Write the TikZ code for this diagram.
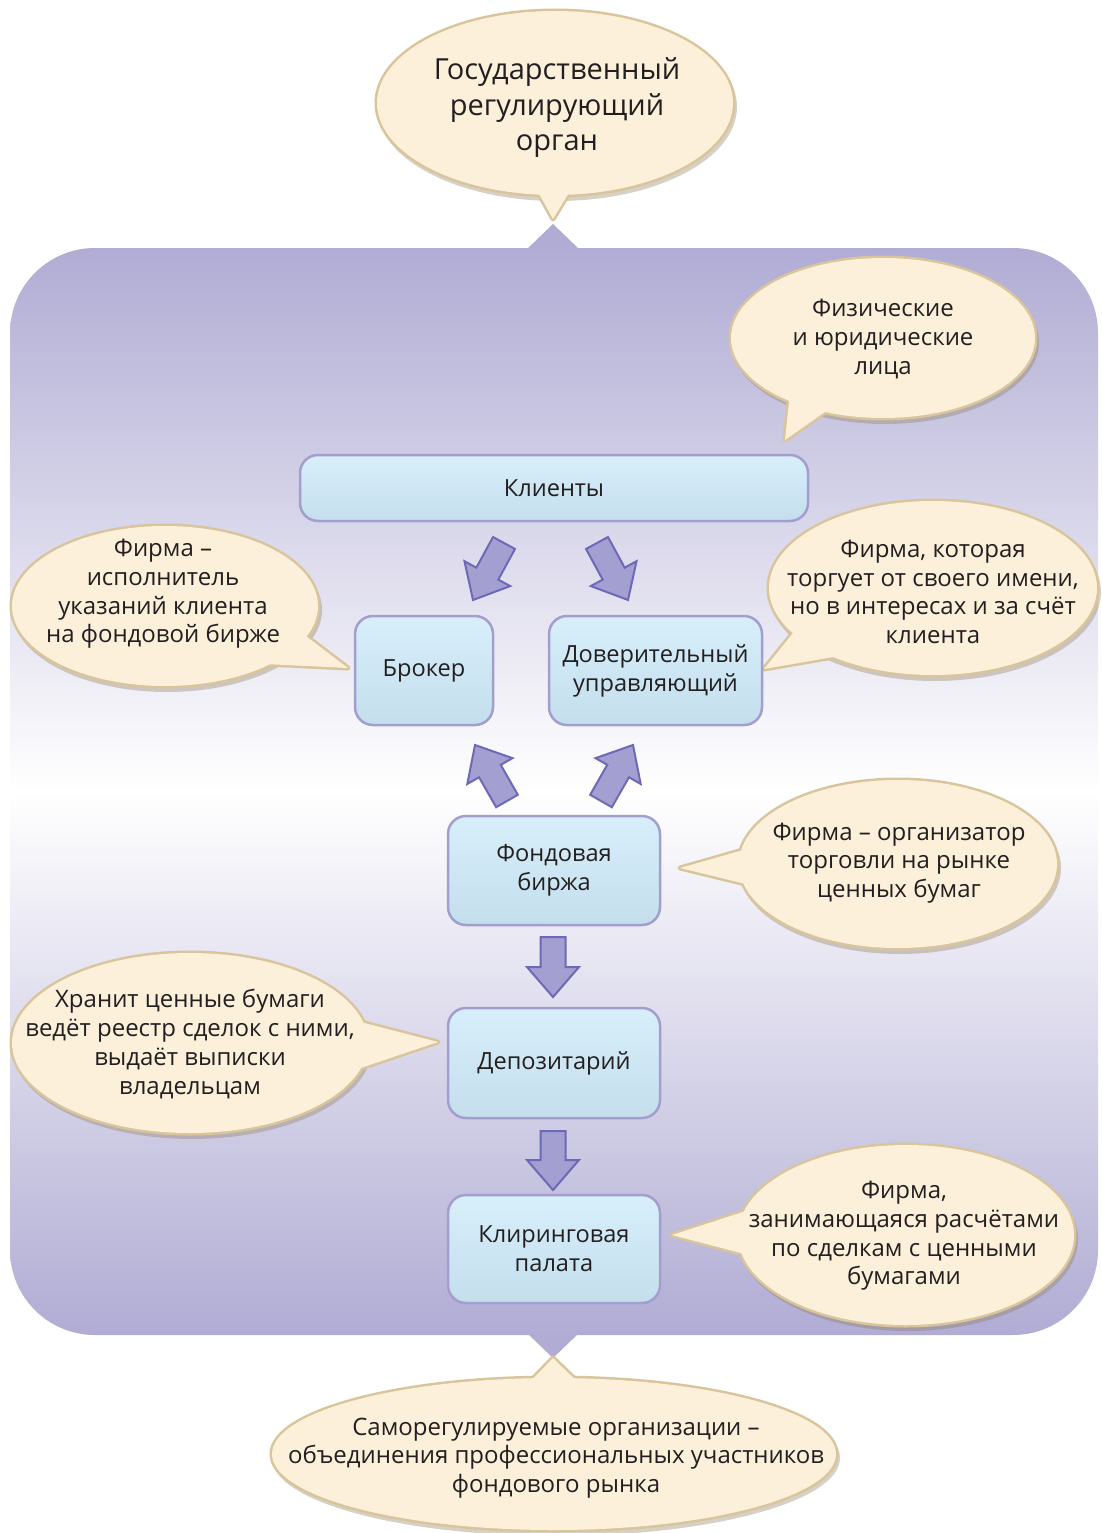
\documentclass[tikz,border=0pt]{standalone}
\usepackage{fontspec}
\setmainfont{Open Sans}
\usetikzlibrary{calc}
\definecolor{bgp}{HTML}{B0ACD4}
\definecolor{boxedge}{HTML}{A39ECE}
\definecolor{boxtop}{HTML}{D8EFFB}
\definecolor{boxbot}{HTML}{C4DEEC}
\definecolor{arrfill}{HTML}{A39FD1}
\definecolor{arredge}{HTML}{6E69B6}
\definecolor{bfill}{HTML}{FCF0DA}
\definecolor{bedge}{HTML}{D9C59C}
\definecolor{bshadow}{HTML}{8C7B5C}
\definecolor{txt}{HTML}{231F20}

\newcommand\mybubfont{\fontsize{24}{28.7}\selectfont}
\newcommand\myboxfont{\fontsize{23.6}{29}\selectfont}
\newcommand\mybigfont{\fontsize{29}{35.5}\selectfont}

% #1 centre, #2 rx, #3 ry, #4 tail path (b1) -- (tip) -- (b2)
\newcommand\bubble[4]{%
  \begin{scope}[shift={(2,4)}]
    \fill[bshadow, opacity=0.35] (#1) ellipse [x radius=#2+2, y radius=#3+2];
  \end{scope}
  \filldraw[bedge, line width=5pt, line join=round] (#1) ellipse [x radius=#2, y radius=#3];
  \filldraw[bedge, line width=5pt, line join=round] #4 -- cycle;
  \fill[bfill] (#1) ellipse [x radius=#2, y radius=#3];
  \fill[bfill] #4 -- cycle;
}

% block arrow from #1 to #2 (tip)
\newcommand\barrow[2]{%
  \coordinate (tmpS) at ($(#2)!30pt!(#1)$);
  \filldraw[arrowst] ($(#1)!12.5pt!90:(#2)$) -- ($(tmpS)!12.5pt!90:(#2)$)
    -- ($(tmpS)!26pt!90:(#2)$) -- (#2) -- ($(tmpS)!26pt!-90:(#2)$)
    -- ($(tmpS)!12.5pt!-90:(#2)$) -- ($(#1)!12.5pt!-90:(#2)$) -- cycle;
}

\tikzset{
  stagebox/.style={draw=boxedge, line width=2.5pt, rounded corners=18pt,
    top color=boxtop, bottom color=boxbot, align=center, font=\myboxfont,
    text=txt, inner sep=0pt},
  bubtext/.style={align=center, text=txt, font=\mybubfont, inner sep=0pt},
  arrowst/.style={fill=arrfill, draw=arredge, line width=2pt, line join=miter},
}

\begin{document}
\begin{tikzpicture}[x=1pt, y=-1pt]
\useasboundingbox (0,0) rectangle (1102,1533);
\fill[white] (0,0) rectangle (1102,1533);

% background panel
\shade[top color=bgp, bottom color=bgp, middle color=white, rounded corners=85pt]
  (10,248) rectangle (1098,1335);
\fill[bgp] (527,249) -- (553,224) -- (579,249) -- cycle;
\fill[bgp] (528,1334) -- (553,1358) -- (578,1334) -- cycle;

% bubbles
\bubble{555,103}{178}{92}{(533,183) -- (553,219) -- (575,183)}
\node[bubtext, font=\mybigfont] (gov) at (557,108) {Государственный\\регулирующий\\орган};

\bubble{883,338}{152}{80}{(790,392) -- (785,440) -- (835,405)}
\node[bubtext] (fiz) at (883,339) {Физические\\и юридические\\лица};

\bubble{165,606}{153}{80}{(298,630) -- (348,668) -- (265,664)}
\node[bubtext] (brokbub) at (163,594) {Фирма –\\исполнитель\\указаний клиента\\на фондовой бирже};

\bubble{933,588}{164}{87}{(797,628) -- (764,669) -- (845,655)}
\node[bubtext] (dovbub) at (933,592) {Фирма, которая\\торгует от своего имени,\\но в интересах и за счёт\\клиента};

\bubble{898,864}{159}{84}{(750,848) -- (680,868) -- (762,888)}
\node[bubtext] (birbub) at (899,863) {Фирма – организатор\\торговли на рынке\\ценных бумаг};

\bubble{190,1043}{178}{90}{(345,1018) -- (438,1042) -- (340,1075)}
\node[bubtext] (depbub) at (190,1044) {Хранит ценные бумаги\\ведёт реестр сделок с ними,\\выдаёт выписки\\владельцам};

\bubble{906,1235}{168}{90}{(755,1208) -- (672,1235) -- (760,1258)}
\node[bubtext] (klbub) at (904,1236) {Фирма,\\занимающаяся расчётами\\по сделкам с ценными\\бумагами};

\bubble{554,1454}{282}{76}{(520,1392) -- (553,1358) -- (588,1392)}
\node[bubtext] (sro) at (556,1458) {Саморегулируемые организации –\\объединения профессиональных участников\\фондового рынка};

% boxes
\node[stagebox, minimum width=508pt, minimum height=66pt] (kl) at (554,488) {Клиенты};
\node[stagebox, minimum width=138pt, minimum height=109pt] (br) at (424,670.5) {Брокер};
\node[stagebox, minimum width=213pt, minimum height=109pt] (dov) at (655.5,670.5) {Доверительный\\управляющий};
\node[stagebox, minimum width=212pt, minimum height=109pt] (fb) at (554,870.5) {Фондовая\\биржа};
\node[stagebox, minimum width=212pt, minimum height=110pt] (dep) at (554,1063) {Депозитарий};
\node[stagebox, minimum width=212pt, minimum height=108pt] (kp) at (554,1249) {Клиринговая\\палата};

% arrows
\coordinate (a1s) at (504,543); \coordinate (a1e) at (473,600);
\coordinate (a2s) at (597,543); \coordinate (a2e) at (628,600);
\coordinate (a3s) at (507,801); \coordinate (a3e) at (475,745);
\coordinate (a4s) at (601,801); \coordinate (a4e) at (633,745);
\coordinate (a5s) at (553,937); \coordinate (a5e) at (553,997);
\coordinate (a6s) at (553,1131); \coordinate (a6e) at (553,1190);
\barrow{a1s}{a1e}
\barrow{a2s}{a2e}
\barrow{a3s}{a3e}
\barrow{a4s}{a4e}
\barrow{a5s}{a5e}
\barrow{a6s}{a6e}
\end{tikzpicture}
\end{document}
